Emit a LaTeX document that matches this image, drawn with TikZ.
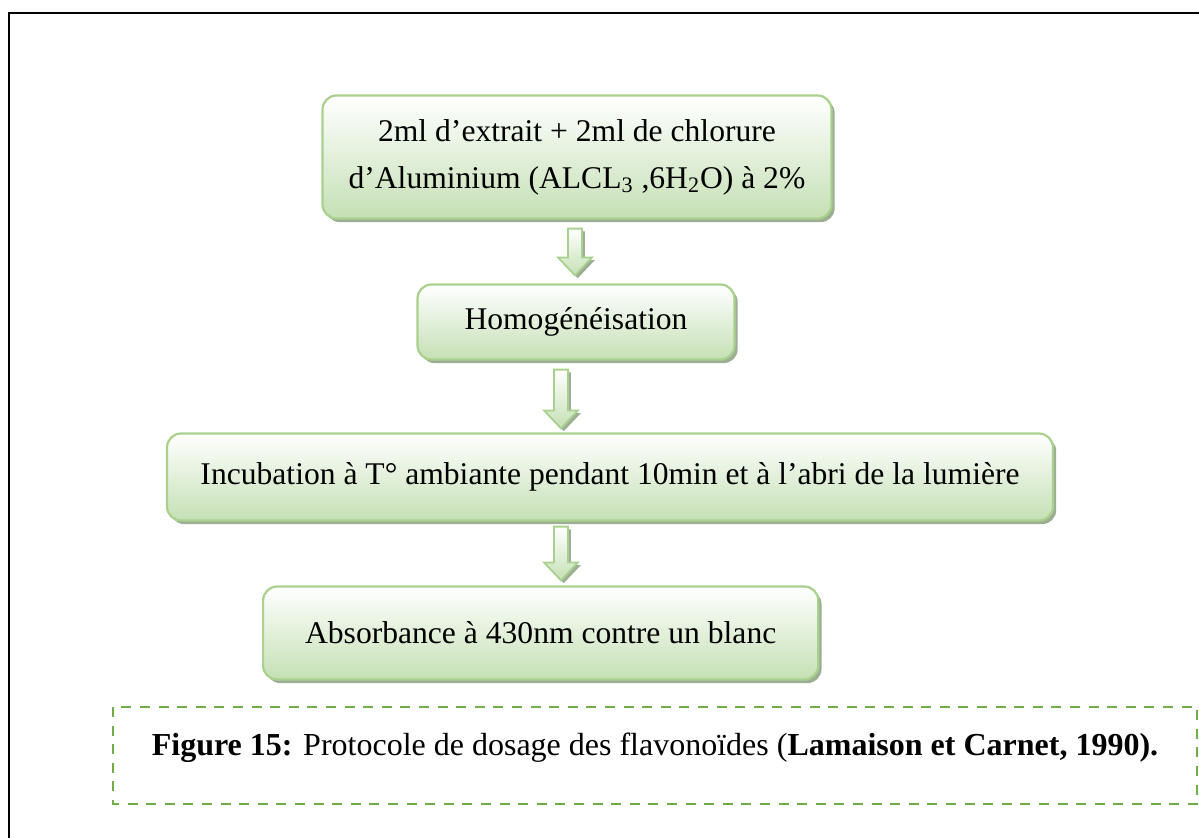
\documentclass[tikz,border=0pt]{standalone}
\usepackage{fontspec}
\setmainfont{Liberation Serif}
\usetikzlibrary{calc,positioning,shadows}

\definecolor{boxline}{RGB}{169,209,142}
\definecolor{boxfill}{RGB}{197,224,180}
\definecolor{boxshade}{RGB}{158,174,148}
\definecolor{dashgreen}{RGB}{112,173,71}

\tikzset{
	stepbox/.style={draw=boxline, line width=1.1pt, rounded corners=7pt,
		top color=white, bottom color=boxfill, align=center, inner sep=0pt,
		drop shadow={shadow xshift=1.6pt, shadow yshift=-1.8pt, fill=boxshade, opacity=1},
		font=\fontsize{15.8}{23.5}\selectfont},
	blkarrow/.style={draw=boxline, line width=0.9pt, line join=miter,
		top color=white, bottom color=boxfill,
		drop shadow={shadow xshift=1.4pt, shadow yshift=-1.4pt, fill=boxshade, opacity=1}},
	dashbox/.style={draw=dashgreen, line width=1pt, dash pattern=on 5pt off 4.3pt},
	captext/.style={font=\fontsize{16}{19}\selectfont, inner sep=0pt},
}

\newcommand{\flowarrow}[2]{%
	\path[blkarrow] ($(#1)+(-7,0)$) -- ($(#2)+(-7,-18)$) -- ($(#2)+(-17,-18)$)
		-- (#2) -- ($(#2)+(17,-18)$) -- ($(#2)+(7,-18)$) -- ($(#1)+(7,0)$) -- cycle;
}

\begin{document}
\begin{tikzpicture}[x=0.5pt, y=-0.5pt]

% frame %{{{2

	\useasboundingbox (0,0) rectangle (1199,837);
	\clip (0,0) rectangle (1199,837);
	\draw[line width=1.3pt] (9,13) rectangle (1230,870);

% steps %{{{2

	\node[stepbox, minimum width=254.5pt, minimum height=61.5pt] (mix) at (577,157)
		{2ml d’extrait + 2ml de chlorure\\d’Aluminium (ALCL\textsubscript{3} ,6H\textsubscript{2}O) à 2\%};

	\node[stepbox, minimum width=158.5pt, minimum height=37.5pt] (homo) at (576,322)
		{Homogénéisation};

	\node[stepbox, minimum width=443pt, minimum height=43.5pt] (incub) at (610,477)
		{Incubation à T° ambiante pendant 10min et à l’abri de la lumière};

	\node[stepbox, anchor=west, inner xsep=21pt, minimum height=46.5pt] (absorb) at (262,633)
		{Absorbance à 430nm contre un blanc};

% arrows %{{{2

	\coordinate (ax1) at (575,0);
	\coordinate (ax2) at (561,0);

	\coordinate (t1) at ($(mix.south -| ax1)+(0,9)$);
	\coordinate (h1) at ($(homo.north -| ax1)+(0,-8)$);
	\coordinate (t2) at ($(homo.south -| ax2)+(0,9)$);
	\coordinate (h2) at ($(incub.north -| ax2)+(0,-4)$);
	\coordinate (t3) at ($(incub.south -| ax2)+(0,5)$);
	\coordinate (h3) at ($(absorb.north -| ax2)+(0,-5)$);

	\flowarrow{t1}{h1}
	\flowarrow{t2}{h2}
	\flowarrow{t3}{h3}

% caption %{{{2

	\draw[dashbox] (113,707) rectangle (1197,804);

	\node[captext] (cap) at (655,748)
		{\textbf{Figure 15:} Protocole de dosage des flavonoïdes (\textbf{Lamaison et Carnet, 1990).}};

% closing %{{{2

\end{tikzpicture}
\end{document}
